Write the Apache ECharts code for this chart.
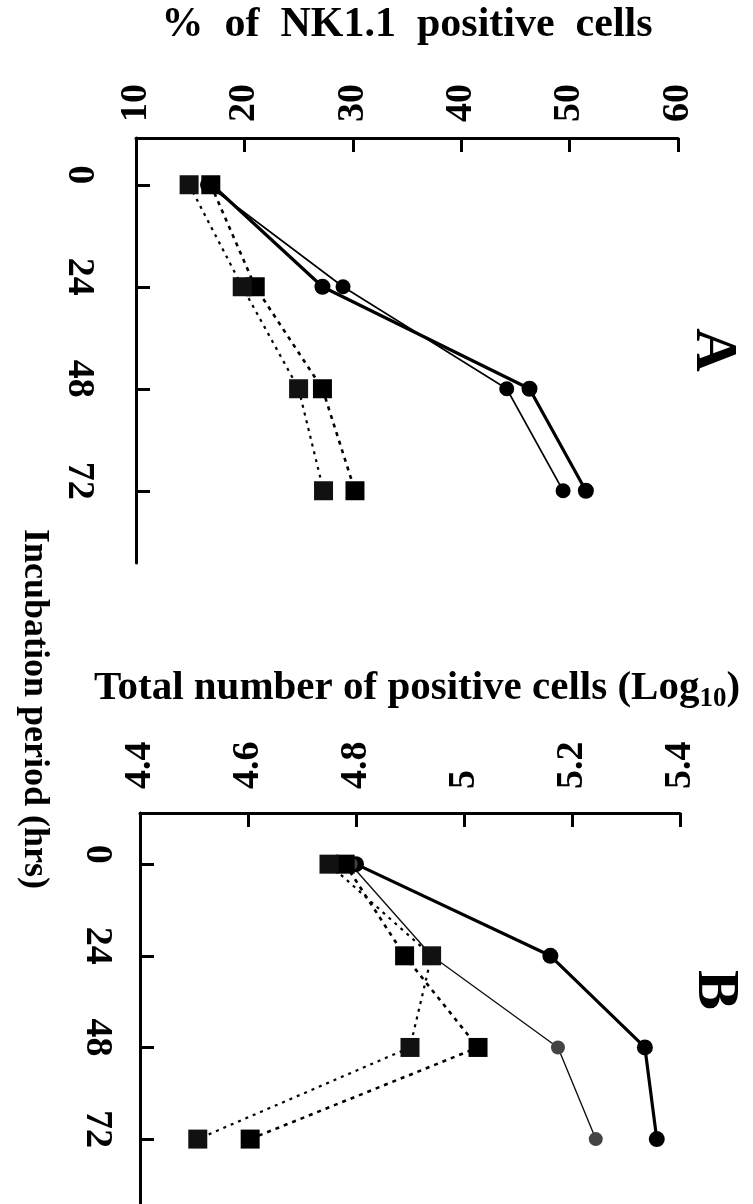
<!DOCTYPE html>
<html><head><meta charset="utf-8">
<script src="https://cdn.jsdelivr.net/npm/echarts@6/dist/echarts.min.js"></script>
<style>html,body{margin:0;padding:0;background:#fff;overflow:hidden}#c{width:753px;height:1204px}</style>
</head><body><div id="c"></div>
<script>
// ---- data ----
const hours = [0, 24, 48, 72];
const hourTicks = [0, 24, 48, 72];
// Panel A: % of NK1.1 positive cells
const A_circleThick = [17.0, 27.2, 46.3, 51.5];
const A_circleThin  = [16.6, 29.1, 44.2, 49.4];
const A_squareBold  = [16.9, 21.0, 27.2, 30.2];
const A_squareLight = [14.9, 19.8, 25.0, 27.3];
// Panel B: total number of positive cells (log10)
const B_circleThick = [4.80, 5.16, 5.335, 5.357];
const B_circleThin  = [4.79, 4.94, 5.174, 5.244];
const B_squareBold  = [4.78, 4.89, 5.026, 4.604];
const B_squareLight = [4.75, 4.94, 4.90, 4.507];

const FONT = "'Liberation Serif','Times New Roman',serif";
const txt = (size) => ({fontFamily: FONT, fontWeight: 'bold', fontSize: size, color: '#000'});
const axisLineStyle = {color: '#000', width: 3};

function ser(grid, vals, kind) {
  const base = {
    type: 'line', xAxisIndex: grid, yAxisIndex: grid, animation: false,
    data: hours.map((h, i) => [vals[i], h])
  };
  const styles = {
    thick: {symbol: 'circle', symbolSize: 16, lineStyle: {color: '#000', width: 3.2}, itemStyle: {color: '#000'}, z: 3},
    thin:  {symbol: 'circle', symbolSize: 15, lineStyle: {color: '#000', width: 1.6}, itemStyle: {color: '#000'}, z: 3},
    thinGray: {symbol: 'circle', symbolSize: 14, lineStyle: {color: '#111', width: 1.4}, itemStyle: {color: '#444'}, z: 3},
    sqBold: {symbol: 'rect', symbolSize: 19, lineStyle: {color: '#000', width: 2.6, type: [4, 5]}, itemStyle: {color: '#000'}, z: 4},
    sqLight: {symbol: 'rect', symbolSize: 19, lineStyle: {color: '#000', width: 2.2, type: [3, 5]}, itemStyle: {color: '#111'}, z: 4}
  };
  return Object.assign(base, styles[kind]);
}

function valueAxis(grid, min, max, interval, margin, name, nameGap, nameStyle) {
  return {
    type: 'value', gridIndex: grid, position: 'top', min: min, max: max, interval: interval,
    axisLine: {show: true, onZero: false, lineStyle: axisLineStyle},
    axisTick: {show: true, inside: true, length: 14, lineStyle: axisLineStyle},
    splitLine: {show: false},
    axisLabel: Object.assign(txt(38), {rotate: -90, margin: margin, padding: [26, 0, 0, 0]}),
    name: name, nameLocation: 'middle', nameGap: nameGap, nameTextStyle: nameStyle
  };
}
function hourAxis(grid, min, max, margin) {
  return {
    type: 'value', gridIndex: grid, position: 'left', inverse: true, min: min, max: max,
    axisLine: {show: true, onZero: false, lineStyle: axisLineStyle},
    axisTick: {show: true, inside: true, length: 14, lineStyle: axisLineStyle, customValues: hourTicks},
    splitLine: {show: false},
    axisLabel: Object.assign(txt(38), {rotate: -90, margin: margin, padding: [0, 20, 0, 0], customValues: hourTicks})
  };
}

const chart = echarts.init(document.getElementById('c'), null, {renderer: 'canvas'});
chart.setOption({
  backgroundColor: '#fff',
  animation: false,
  grid: [
    {left: 136, top: 138, width: 542, height: 425},
    {left: 140, top: 813, width: 540, height: 421}
  ],
  xAxis: [
    valueAxis(0, 10, 60, 10, 16, '%  of  NK1.1  positive  cells', 92, txt(42)),
    valueAxis(1, 4.4, 5.4, 0.2, 24, 'Total number of positive cells (Log{sub|10})', 100,
      Object.assign(txt(41), {lineHeight: 50, padding: [0, 0, 0, 14],
        rich: {sub: Object.assign(txt(27), {lineHeight: 22, verticalAlign: 'bottom'})}}))
  ],
  yAxis: [
    hourAxis(0, -11, 89, 38),
    hourAxis(1, -13.4, 89, 24)
  ],
  series: [
    ser(0, A_circleThick, 'thick'),
    ser(0, A_circleThin, 'thin'),
    ser(0, A_squareBold, 'sqBold'),
    ser(0, A_squareLight, 'sqLight'),
    ser(1, B_circleThick, 'thick'),
    ser(1, B_circleThin, 'thinGray'),
    ser(1, B_squareBold, 'sqBold'),
    ser(1, B_squareLight, 'sqLight')
  ],
  graphic: [
    {type: 'text', x: 34, y: 709, rotation: -Math.PI / 2,
     style: Object.assign(txt(36), {text: 'Incubation period (hrs)', fill: '#000', align: 'center', verticalAlign: 'middle'})},
    {type: 'text', x: 712, y: 350, rotation: -Math.PI / 2,
     style: Object.assign(txt(60), {text: 'A', fill: '#000', align: 'center', verticalAlign: 'middle'})},
    {type: 'text', x: 714, y: 990, rotation: -Math.PI / 2,
     style: Object.assign(txt(60), {text: 'B', fill: '#000', align: 'center', verticalAlign: 'middle'})}
  ]
});
</script></body></html>
